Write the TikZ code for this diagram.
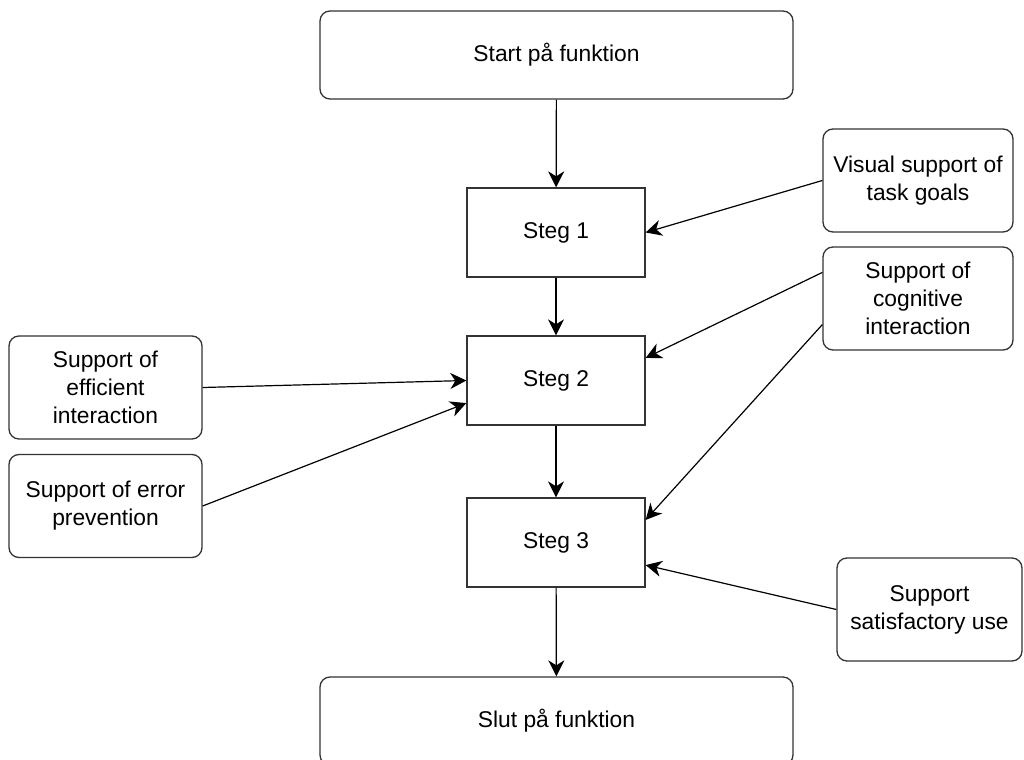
\documentclass[tikz,border=0pt]{standalone}
\usepackage{fontspec}
\setmainfont{Liberation Sans}
\usetikzlibrary{arrows.meta,calc}

\begin{document}
\begin{tikzpicture}
		[x=0.5pt,y=-0.5pt,
		every node/.style={font=\fontsize{11.4}{14}\selectfont,align=center,inner sep=0pt},
		endbox/.style={rectangle,rounded corners=5pt,draw=black!80,line width=0.65pt,minimum width=236.5pt,minimum height=44pt},
		stepbox/.style={rectangle,draw=black!80,line width=0.65pt,minimum width=89pt,minimum height=44.5pt},
		aspect/.style={rectangle,rounded corners=5pt,draw=black!80,line width=0.65pt,minimum width=95pt,minimum height=51.5pt},
		link/.style={-{Stealth[length=8pt,width=8pt,inset=2.5pt]},line width=0.6pt}]
		\useasboundingbox (0,0) rectangle (1024,760);
		
		\node[endbox] (start) at (556.5,55) {Start på funktion};
		\node[stepbox] (s1) at (556,232.5) {Steg 1};
		\node[stepbox] (s2) at (556,380.5) {Steg 2};
		\node[stepbox] (s3) at (556,542.5) {Steg 3};
		\node[endbox] (slut) at (556.5,721) {Slut på funktion};
		
		\node[aspect] (visual) at (918,180.5) {Visual support of\\task goals};
		\node[aspect] (cognitive) at (918,298.5) {Support of\\cognitive\\interaction};
		\node[aspect,minimum width=96.5pt] (efficient) at (105.5,387.5) {Support of\\efficient\\interaction};
		\node[aspect,minimum width=96.5pt] (error) at (105.5,506) {Support of error\\prevention};
		\node[aspect,minimum width=92.5pt] (satisfactory) at (929.5,609.5) {Support\\satisfactory use};
		
		\draw[link] (start) -- (s1);
		\draw[link] (s1) -- (s2);
		\draw[link] (s2) -- (s3);
		\draw[link] (s3) -- (slut);
		
		\draw[link] (visual.west) -- (s1.east);
		\draw[link] ($(cognitive.north west)!.25!(cognitive.south west)$) -- ($(s2.north east)!.25!(s2.south east)$);
		\draw[link] ($(cognitive.north west)!.75!(cognitive.south west)$) -- ($(s3.north east)!.25!(s3.south east)$);
		\draw[link] (efficient.east) -- (s2.west);
		\draw[link] (error.east) -- ($(s2.north west)!.75!(s2.south west)$);
		\draw[link] (satisfactory.west) -- ($(s3.north east)!.75!(s3.south east)$);
		
	\end{tikzpicture}
\end{document}
